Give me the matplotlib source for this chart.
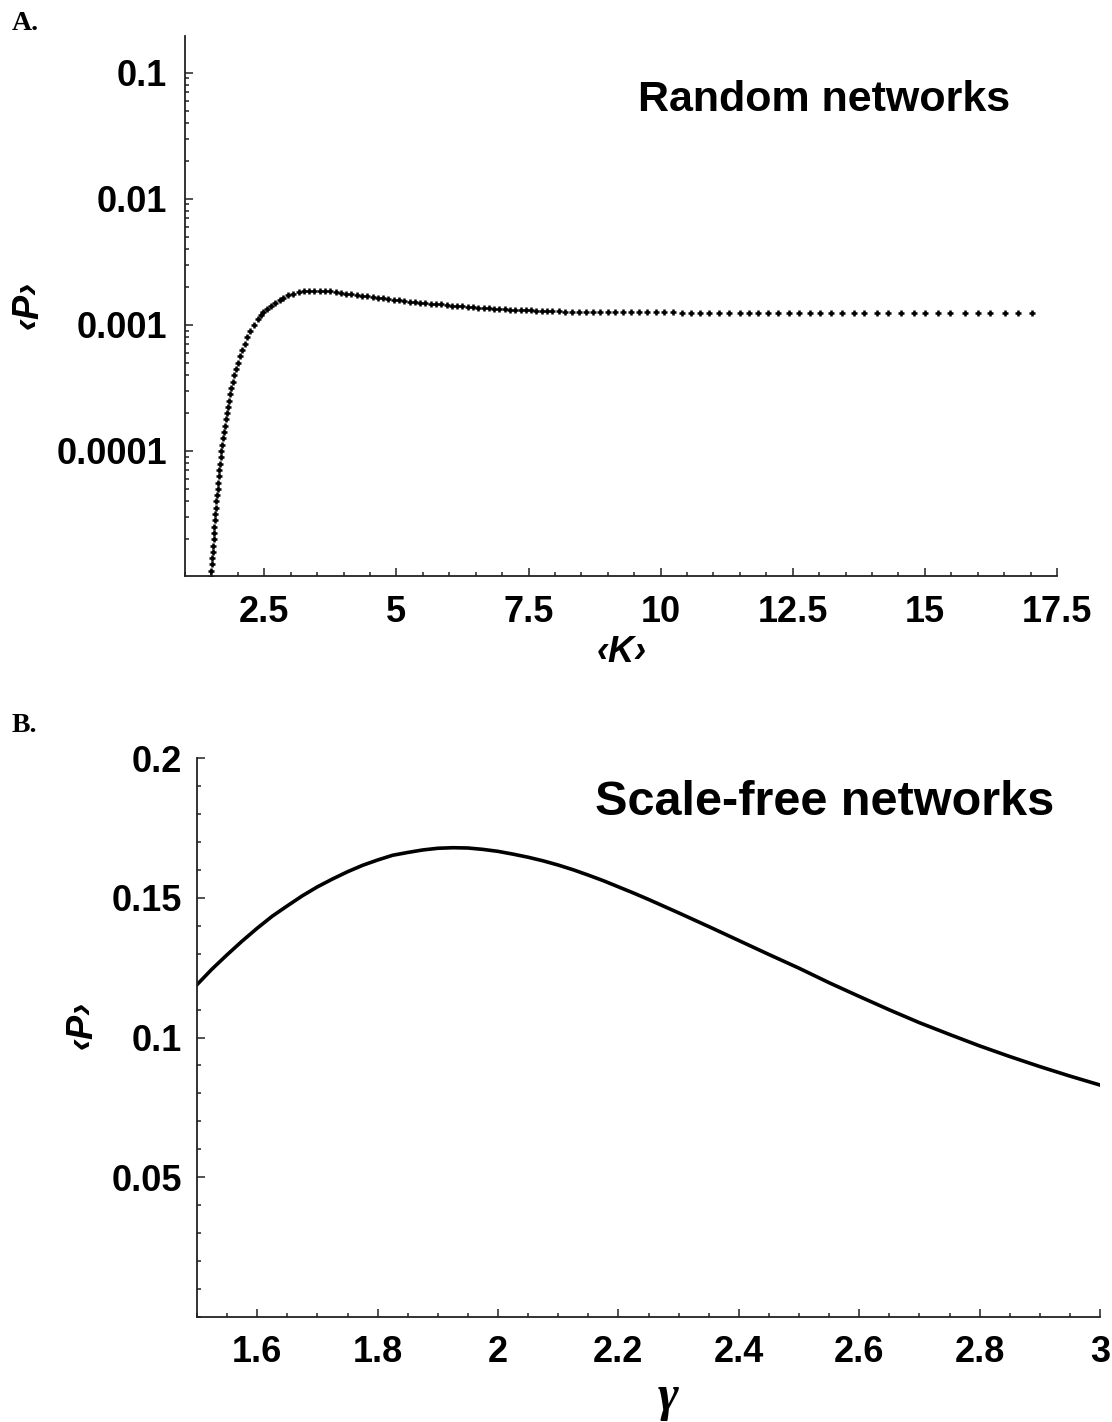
import matplotlib
matplotlib.use("Agg")
import matplotlib.pyplot as plt
from matplotlib.ticker import MultipleLocator, LogLocator, FuncFormatter, NullFormatter

# Panel A: random networks, <P> against <K> (log y)
k_mean = [
    1.490, 1.497, 1.505, 1.513, 1.522, 1.531, 1.540, 1.549, 1.558, 1.567,
    1.577, 1.586, 1.596, 1.605, 1.615, 1.626, 1.637, 1.649, 1.662, 1.676,
    1.690, 1.704, 1.720, 1.736, 1.753, 1.771, 1.790, 1.810, 1.831, 1.853,
    1.876, 1.900, 1.932, 1.965, 2.000, 2.045, 2.088, 2.132, 2.178, 2.235,
    2.300, 2.375, 2.430, 2.480, 2.545, 2.620, 2.700, 2.790,
    2.85, 2.95, 3.05, 3.15, 3.25, 3.35, 3.45, 3.55, 3.65, 3.75,
    3.85, 3.95, 4.05, 4.15, 4.25, 4.35, 4.45, 4.55, 4.65, 4.75,
    4.85, 4.95, 5.05, 5.15, 5.25, 5.35, 5.45, 5.55, 5.65, 5.75,
    5.85, 5.95, 6.05, 6.15, 6.25, 6.35, 6.45, 6.55, 6.65, 6.75,
    6.85, 6.95, 7.05, 7.15, 7.25, 7.35, 7.45, 7.55, 7.65, 7.75,
    7.85, 7.95, 8.07, 8.19, 8.32, 8.45, 8.58, 8.72, 8.86, 9.00,
    9.14, 9.29, 9.44, 9.59, 9.75, 9.91, 10.07, 10.23, 10.40, 10.57,
    10.74, 10.92, 11.10, 11.30, 11.51, 11.68, 11.85, 12.03, 12.22, 12.42,
    12.61, 12.82, 13.02, 13.23, 13.44, 13.65, 13.85, 14.09, 14.30, 14.54,
    14.79, 15.00, 15.24, 15.47, 15.75, 16.00, 16.24, 16.51, 16.76, 17.03,
]
p_random = [
    1.00e-5, 1.12e-5, 1.26e-5, 1.41e-5, 1.58e-5, 1.78e-5, 2.00e-5, 2.24e-5, 2.51e-5, 2.82e-5,
    3.16e-5, 3.55e-5, 3.98e-5, 4.47e-5, 5.01e-5, 5.62e-5, 6.31e-5, 7.08e-5, 7.94e-5, 8.91e-5,
    1.00e-4, 1.12e-4, 1.26e-4, 1.41e-4, 1.58e-4, 1.78e-4, 2.00e-4, 2.24e-4, 2.51e-4, 2.82e-4,
    3.16e-4, 3.55e-4, 3.98e-4, 4.47e-4, 5.01e-4, 5.62e-4, 6.31e-4, 7.08e-4, 7.94e-4, 8.91e-4,
    1.00e-3, 1.12e-3, 1.19e-3, 1.26e-3, 1.33e-3, 1.41e-3, 1.50e-3, 1.58e-3,
    1.64e-3, 1.72e-3, 1.77e-3, 1.81e-3, 1.84e-3, 1.86e-3, 1.87e-3, 1.87e-3, 1.86e-3, 1.84e-3,
    1.82e-3, 1.80e-3, 1.77e-3, 1.75e-3, 1.72e-3, 1.70e-3, 1.68e-3, 1.66e-3, 1.64e-3, 1.62e-3,
    1.60e-3, 1.58e-3, 1.56e-3, 1.54e-3, 1.52e-3, 1.51e-3, 1.50e-3, 1.48e-3, 1.47e-3, 1.46e-3,
    1.45e-3, 1.43e-3, 1.42e-3, 1.41e-3, 1.40e-3, 1.39e-3, 1.38e-3, 1.37e-3, 1.36e-3, 1.35e-3,
    1.34e-3, 1.33e-3, 1.325e-3, 1.32e-3, 1.315e-3, 1.31e-3, 1.305e-3, 1.30e-3, 1.295e-3, 1.29e-3,
    1.285e-3, 1.28e-3, 1.278e-3, 1.275e-3, 1.272e-3, 1.270e-3, 1.268e-3, 1.266e-3, 1.264e-3, 1.262e-3,
    1.260e-3, 1.259e-3, 1.258e-3, 1.257e-3, 1.256e-3, 1.255e-3, 1.254e-3, 1.253e-3, 1.252e-3, 1.251e-3,
    1.250e-3, 1.249e-3, 1.248e-3, 1.247e-3, 1.246e-3, 1.245e-3, 1.245e-3, 1.244e-3, 1.244e-3, 1.243e-3,
    1.243e-3, 1.242e-3, 1.242e-3, 1.241e-3, 1.241e-3, 1.240e-3, 1.240e-3, 1.239e-3, 1.239e-3, 1.238e-3,
    1.238e-3, 1.238e-3, 1.237e-3, 1.237e-3, 1.237e-3, 1.236e-3, 1.236e-3, 1.236e-3, 1.235e-3, 1.235e-3,
]

# Panel B: scale-free networks, <P> against gamma
gamma = [
    1.500, 1.525, 1.550, 1.575, 1.600, 1.625, 1.650, 1.675, 1.700, 1.725,
    1.750, 1.775, 1.800, 1.825, 1.850, 1.875, 1.900, 1.925, 1.950, 1.975,
    2.000, 2.025, 2.050, 2.075, 2.100, 2.125, 2.150, 2.175, 2.200, 2.225,
    2.250, 2.275, 2.300, 2.35, 2.40, 2.45, 2.50, 2.55, 2.60, 2.65,
    2.70, 2.75, 2.80, 2.85, 2.90, 2.95, 3.00,
]
p_scalefree = [
    0.1189, 0.1245, 0.1296, 0.1345, 0.1391, 0.1434, 0.1471, 0.1507, 0.1539, 0.1567,
    0.1593, 0.1616, 0.1635, 0.1652, 0.1662, 0.1671, 0.1677, 0.1679, 0.1678, 0.1673,
    0.1666, 0.1656, 0.1645, 0.1632, 0.1617, 0.1600, 0.1581, 0.1561, 0.1539, 0.1517,
    0.1494, 0.1470, 0.1446, 0.1397, 0.1347, 0.1297, 0.1248, 0.1196, 0.1147, 0.1099,
    0.1053, 0.1011, 0.0970, 0.0932, 0.0896, 0.0862, 0.0830,
]

gamma_ticks = [1.6, 1.8, 2.0, 2.2, 2.4, 2.6, 2.8, 3.0]
p_sf_ticks = [0.05, 0.1, 0.15, 0.2]

W, H = 1112, 1422
tick_font = {"family": "Liberation Sans", "weight": "bold", "size": 26}
fmt = FuncFormatter(lambda v, pos: f"{v:g}")


def style_axes(ax, xpad, ypad):
    for side in ("top", "right"):
        ax.spines[side].set_visible(False)
    for side in ("left", "bottom"):
        ax.spines[side].set_linewidth(1.3)
        ax.spines[side].set_color("#222222")
    ax.tick_params(which="both", direction="in", color="#222222", width=1.1)
    ax.tick_params(which="major", length=5.5)
    ax.tick_params(which="minor", length=3.2)
    ax.tick_params(axis="x", pad=xpad)
    ax.tick_params(axis="y", pad=ypad)
    for lab in ax.get_xticklabels() + ax.get_yticklabels():
        lab.set_fontfamily(tick_font["family"])
        lab.set_fontweight(tick_font["weight"])
        lab.set_fontsize(tick_font["size"])


def px_box(left, top, right, bottom):
    return [left / W, 1 - bottom / H, (right - left) / W, (bottom - top) / H]


fig = plt.figure(figsize=(W / 100, H / 100), dpi=100)

# ---- A ----
ax_a = fig.add_axes(px_box(185, 36, 1057, 576))
ax_a.plot(k_mean, p_random, linestyle="none", marker="+", markersize=4.3,
          markeredgewidth=1.8, color="black")
ax_a.set_yscale("log")
ax_a.set_xlim(1.0, 17.5)
ax_a.set_ylim(1.02e-5, 0.195)
ax_a.xaxis.set_major_locator(MultipleLocator(2.5))
ax_a.xaxis.set_minor_locator(MultipleLocator(0.5))
ax_a.xaxis.set_major_formatter(fmt)
ax_a.yaxis.set_major_locator(LogLocator(base=10, numticks=12))
ax_a.yaxis.set_minor_locator(LogLocator(base=10, subs=range(2, 10), numticks=12))
ax_a.yaxis.set_major_formatter(fmt)
ax_a.yaxis.set_minor_formatter(NullFormatter())
style_axes(ax_a, 14, 13)

# ---- B ----
ax_b = fig.add_axes(px_box(197, 758, 1100, 1317))
ax_b.plot(gamma, p_scalefree, color="black", linewidth=2.6)
ax_b.set_xlim(1.5, 3.0)
ax_b.set_ylim(0, 0.2)
ax_b.set_xticks(gamma_ticks)
ax_b.xaxis.set_minor_locator(MultipleLocator(0.05))
ax_b.set_yticks(p_sf_ticks)
ax_b.yaxis.set_minor_locator(MultipleLocator(0.01))
ax_b.xaxis.set_major_formatter(fmt)
ax_b.yaxis.set_major_formatter(fmt)
style_axes(ax_b, 13, 11)


def ftext(x, y, s, **kw):
    fig.text(x / W, 1 - y / H, s, **kw)


ftext(12, 23, "A.", family="Liberation Serif", weight="bold", size=20, ha="left", va="center")
ftext(12, 726, "B.", family="Liberation Serif", weight="bold", size=20, ha="left", va="center")

ftext(824, 100, "Random networks", family="Liberation Sans", weight="bold",
      size=31, ha="center", va="center")
ftext(825, 803, "Scale-free networks", family="Liberation Sans", weight="bold",
      size=35, ha="center", va="center")

ftext(28, 305, "‹P›", family="Liberation Sans", weight="bold", style="italic",
      size=26, rotation=90, ha="center", va="center")
ftext(82, 1025, "‹P›", family="Liberation Sans", weight="bold", style="italic",
      size=26, rotation=90, ha="center", va="center")
ftext(622, 652, "‹K›", family="Liberation Sans", weight="bold", style="italic",
      size=26, ha="center", va="center")
ftext(668, 1398, "γ", family="Liberation Serif", weight="bold", style="italic",
      size=36, ha="center", va="center")

fig.savefig("out.png", dpi=100, facecolor="white")
